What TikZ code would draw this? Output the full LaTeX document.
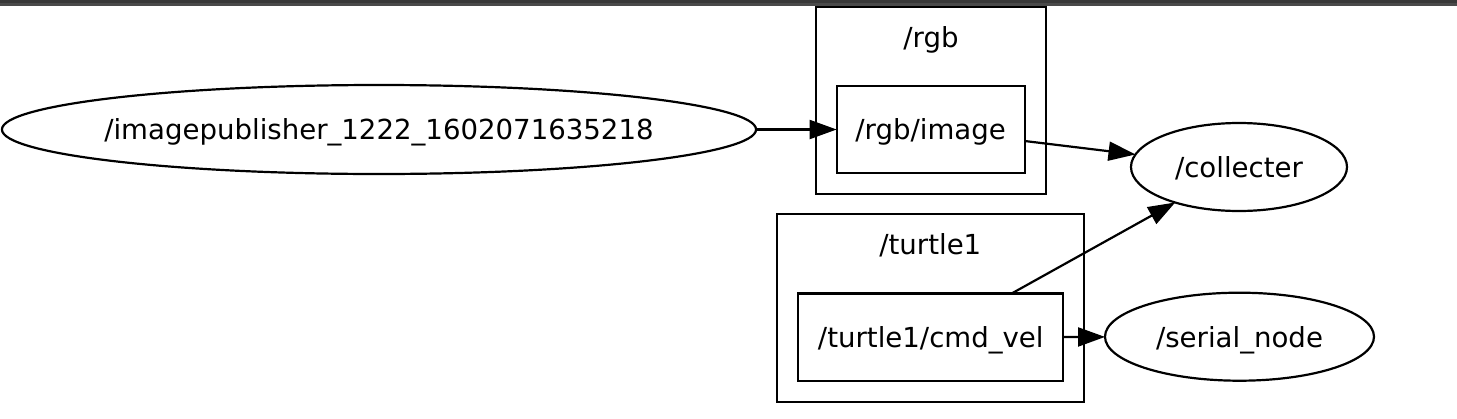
\documentclass[tikz,border=0pt]{standalone}
\usepackage{fontspec}
\setmainfont{DejaVu Sans}
\usetikzlibrary{arrows.meta,shapes.geometric}
\definecolor{bardark}{HTML}{383838}
\definecolor{barlight}{HTML}{4A4A4A}

\begin{document}
\begin{tikzpicture}[x = 0.5pt, y = -0.5pt,
    every node/.style = {font=\fontsize{13.8}{16}\selectfont, inner sep=0pt, outer sep=0pt, text depth=0pt},
    cluster/.style = {draw, line width=1.1pt, rectangle},
    topic/.style = {draw, line width=1.1pt, rectangle},
    rosnode/.style = {draw, line width=1.1pt, ellipse},
    edge/.style = {line width=1.1pt, -{Triangle[length=13.5pt, width=9.5pt]}}]
    \useasboundingbox (0,0) rectangle (1457,418);
    \fill [color=bardark] (0,0) rectangle (1457,3.3);
    \fill [color=barlight] (0,3.3) rectangle (1457,5.6);
    \node[cluster, minimum width=115pt, minimum height=93.5pt] (rgbcluster) at (931,100.5) {};
    \node (rgblabel) at (931,37.5) {/rgb};
    \node[cluster, minimum width=153.7pt, minimum height=93.7pt] (turtlecluster) at (930.3,308) {};
    \node (turtlelabel) at (930.3,244) {/turtle1};
    \node[topic, minimum width=94pt, minimum height=43.8pt] (rgbimage) at (930.6,129.5) {/rgb/image};
    \node[topic, minimum width=132.5pt, minimum height=43.8pt] (cmdvel) at (930.8,337.2) {/turtle1/cmd\_vel};
    \node[rosnode, inner xsep=-4.05pt, minimum height=44.5pt] (imagepub) at (379,129.5) {/imagepublisher\_1222\_1602071635218};
    \node[rosnode, minimum width=108pt, minimum height=44pt] (collecter) at (1239,167) {/collecter};
    \node[rosnode, minimum width=134.5pt, minimum height=44pt] (serial) at (1239.5,336.7) {/serial\_node};
    \draw [edge] (imagepub) -- (rgbimage);
    \draw [edge] ([shift={(0,11.5)}]rgbimage.east) -- (collecter);
    \draw [edge] ([shift={(81,0)}]cmdvel.north) -- (collecter);
    \draw [edge] (cmdvel) -- (serial);
\end{tikzpicture}
\end{document}
